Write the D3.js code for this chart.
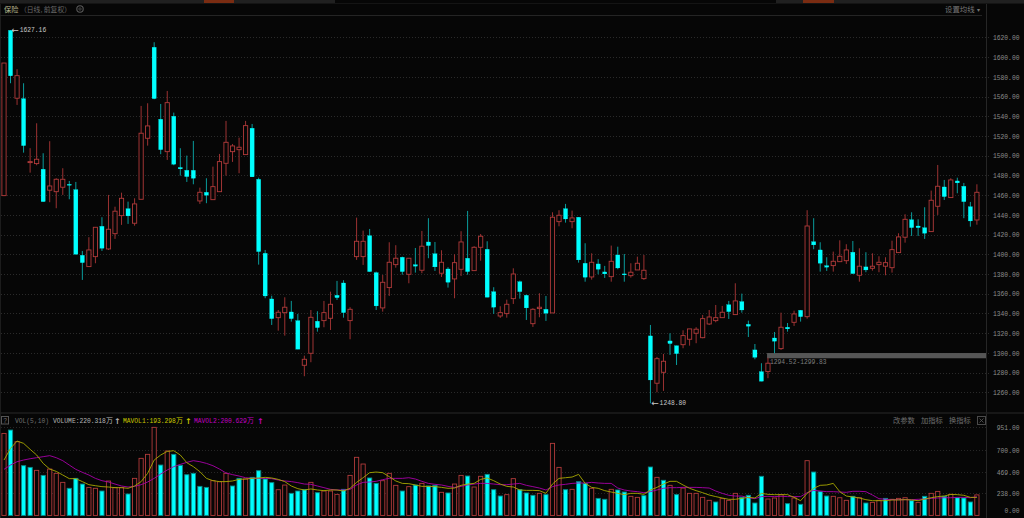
<!DOCTYPE html>
<html><head><meta charset="utf-8">
<script src="https://cdn.jsdelivr.net/npm/d3@7"></script>
<style>html,body{margin:0;padding:0;background:#060606;overflow:hidden}svg{display:block}
text{font-family:"Liberation Mono","DejaVu Sans Mono",monospace}
.cn{font-family:"Noto Sans CJK SC","Noto Sans",sans-serif}</style>
</head><body><svg id="c" width="1024" height="518"></svg>
<script>
const opens=[1459.5,1627.16,1558.3,1557.9,1493,1492,1486.3,1465,1463.5,1468,
1471,1465.6,1399,1387.5,1397.6,1428.4,1405.4,1420.9,1439.2,1446.3,
1431.5,1455.8,1517.7,1610,1537,1504.1,1540,1488.1,1485.2,1485.2,
1454.1,1462.9,1455.4,1463.5,1492.3,1504.1,1506.1,1501.1,1527.9,1476.1,
1401,1354.7,1335.7,1340.8,1341.5,1332.7,1287.4,1299.6,1332.1,1332.7,
1335.1,1358.4,1370.9,1332.7,1397.6,1397.6,1418.9,1381.4,1345.6,1366.2,
1389.5,1397,1379.7,1389.5,1383.8,1412.5,1400.6,1380.8,1385.1,1375,
1384.8,1396,1383.4,1407.1,1405.1,1362.1,1337.4,1339.8,1355,1372.2,
1358.4,1329.6,1344.9,1344.2,1340.5,1433.1,1446.3,1433.1,1437.6,1390.9,
1377,1390.2,1382.1,1377.3,1399.3,1380.1,1378.3,1384.1,1375.3,1317.2,
1269.2,1280.3,1312.1,1307.3,1308.3,1313.8,1319.9,1315.4,1329.3,1332.7,
1335.7,1348.9,1338.8,1352,1329,1303,1281,1281,1315.1,1304.3,
1326,1331,1343.2,1336.7,1412.8,1404.4,1388.5,1388.5,1392.5,1393.5,
1402.1,1378.7,1387.2,1385.8,1389.5,1387.9,1386.4,1401.7,1417.3,1435.1,
1428.7,1427,1423,1448.7,1468.3,1457.5,1474.4,1469,1448.3,1434.8];
const highs=[1594,1627.16,1587.7,1573.5,1507.6,1532.9,1502.5,1514.7,1477.1,1487.3,
1474.4,1473.4,1403.4,1417.3,1427.4,1437.6,1460.2,1448.3,1462.5,1453.4,
1456.8,1550.5,1553.2,1615.1,1552.5,1565.7,1543.7,1507.6,1500.1,1515,
1467.6,1477.1,1488.9,1501.8,1535.3,1511.9,1518.3,1535.3,1532.2,1477.7,
1404.4,1358,1343.5,1356.4,1352.7,1339.5,1297.2,1343.5,1342.2,1352.7,
1362.1,1373,1373.7,1346.3,1437.2,1424,1425.7,1382.4,1379,1412.2,
1409.2,1397.6,1396,1406.4,1423.7,1436.6,1412.5,1404.1,1386.9,1400,
1423.4,1444,1408.2,1420.6,1413.2,1366.6,1347.3,1354,1385.8,1373.3,
1359.1,1345.3,1360.5,1357.7,1442.6,1444.7,1451.1,1444.3,1437.6,1411.2,
1401,1395,1388.2,1408.8,1407.7,1400.3,1390.9,1397.6,1399.3,1328.3,
1295.9,1298.9,1319.9,1307.3,1322.9,1324.3,1326,1338.5,1343.5,1348.6,
1347.6,1352.7,1370.6,1360.1,1332.7,1309,1289.5,1295.1,1321.2,1340.8,
1330.3,1342.8,1343.5,1444.7,1436.6,1412.2,1397,1402.7,1414.2,1410.2,
1413.5,1406.1,1402.1,1401,1398,1397,1413.8,1421.3,1440.6,1442.6,
1435.5,1447.7,1464.6,1490.6,1475.4,1477.1,1477.7,1472.4,1453.1,1471];
const lows=[1459,1573.5,1551.5,1503.1,1482.8,1490.3,1453.4,1452.8,1446.7,1460.2,
1455.8,1400,1374,1387.5,1390.9,1403.4,1404.4,1415.6,1429.8,1430.8,
1429,1455.8,1510.2,1557.3,1501.5,1495.7,1490.3,1479.8,1473.4,1471,
1451.1,1451.8,1455.4,1463.5,1479.8,1493.7,1482.2,1501.1,1478.5,1389.5,
1355.4,1328.3,1322.5,1317.5,1331.7,1303.7,1276.3,1290.5,1321.5,1326,
1323.2,1353.7,1335.7,1313.8,1394.3,1389.2,1382.4,1343.5,1341.8,1357.7,
1386.4,1379.3,1370.6,1381.4,1380.8,1396,1383.1,1377,1366.2,1355.4,
1378,1379.3,1383.4,1393.5,1356.4,1339.5,1335.4,1335.7,1349.6,1355,
1333.4,1326.3,1336.1,1332.4,1340.5,1428.4,1432.1,1426.4,1391.5,1372.2,
1374.3,1379.7,1376,1372.2,1384.8,1372.2,1376.3,1384.1,1374,1248.8,
1260,1261.4,1297.9,1287.7,1304.7,1307.3,1309.8,1314.8,1328.3,1331,
1335.7,1334.4,1338.8,1340.8,1316.1,1293.5,1271.2,1274.3,1299.6,1303,
1321.5,1327.3,1331.7,1334.7,1405.1,1382.4,1383.1,1382.4,1392.5,1390.2,
1380.4,1372.2,1381.8,1383.4,1381.8,1378.7,1381.4,1401.7,1411.8,1418.6,
1418.6,1415.6,1423,1439.9,1455.1,1457.5,1461.9,1436.6,1428,1430];
const closes=[1594,1581,1581.2,1510.2,1494,1496.4,1453.4,1469.3,1476.1,1476.1,
1470,1400,1391.5,1404.4,1427.4,1406.1,1425.4,1443.7,1456.8,1438.9,
1451.1,1522.8,1530.2,1557.9,1506.1,1553.8,1491.3,1486.6,1478.8,1477.1,
1462.9,1459.9,1468.6,1494,1513.6,1509.9,1508.6,1530.5,1478.5,1402.7,
1357.7,1334.7,1341.2,1346.3,1334.7,1303.7,1293.5,1336.1,1325.6,1340.8,
1349.3,1356,1340.8,1344.2,1413.2,1413.2,1382.4,1347.6,1371.6,1391.9,
1396,1382.4,1396,1387.9,1408.2,1408.8,1387.2,1391.9,1371.6,1391.5,
1412.5,1382.4,1407.1,1418.3,1356.4,1346.3,1340.8,1349.3,1380,1362.1,
1345.6,1344.2,1346.3,1340.2,1437.6,1439.6,1435.8,1436.9,1394.3,1376.7,
1391.9,1384.8,1380.1,1392.9,1386.1,1379.3,1381.8,1390.9,1383.8,1272.5,
1294.1,1291.5,1309.4,1299.2,1317.5,1324.3,1324,1334.7,1336.4,1335.7,
1341.2,1341.8,1352.7,1343.5,1327,1295.5,1271.2,1289.5,1311.8,1326,
1324.3,1339.5,1336.7,1428.7,1409.5,1390.9,1386.9,1392.9,1398,1404.4,
1380.4,1387.9,1384.1,1387.9,1391.9,1391.5,1404.7,1417.6,1435.5,1427,
1427,1421.3,1454.8,1469,1458.5,1475.4,1472.4,1453.4,1433.8,1462.9];
const volumes=[881,917,792,534,516,484,430,498,452,355,291,398,337,301,291,262,369,298,298,230,
398,613,656,946,541,692,656,538,437,452,312,301,373,362,452,316,398,391,409,480,
391,352,276,326,237,262,276,355,244,262,262,226,280,430,624,552,402,344,373,452,
323,262,309,326,344,316,323,248,241,337,430,423,305,420,441,276,208,223,395,276,
241,216,237,223,774,516,276,280,362,344,291,183,173,280,273,251,205,194,212,520,
409,377,323,223,294,237,237,194,162,144,180,162,237,194,216,133,420,176,187,223,
126,187,119,588,466,255,208,205,190,162,205,190,133,140,162,183,173,183,190,158,
140,205,237,258,205,226,190,187,144,220.318];
const volumeColors=("rcrccrcrrr cccrrcrrrc rrrrcrcccc ccrrrccrcc ccrrcccrcr "+
"rrcrrrccrr rcrcrccrcr rcrrcccrrc ccrcrrcrcc rccrccrrcc "+
"rcrcrrrrrc rrrccccrrr crcrcccrrr crcrrcrrrc rcrrcrcccr").replace(/ /g,"").split("");
const mavol1=[595,720,799,774,710,649,559,498,473,434,395,395,363,330,319,309,305,298,298,291,
316,363,452,595,649,688,695,649,566,524,470,398,373,363,363,370,387,391,398,402,
409,402,387,363,316,287,273,284,273,266,273,273,
262,291,355,405,459,466,459,416,370,344,341,327,312,312,309,301,291,294,323,337,
344,387,402,373,337,312,305,273,269,269,266,237,337,398,405,412,441,344,301,291,
266,251,237,223,237,237,226,273,301,337,366,366,
327,291,266,244,219,202,187,173,173,183,194,187,237,226,223,223,223,194,158,237,
291,323,327,344,255,208,198,187,169,158,158,158,166,166,169,166,158,176,190,202,
208,226,223,216,194,193.298];
const mavol2=[495,541,577,595,609,620,631,642,620,588,541,495,463,434,398,373,359,337,316,305,
312,330,359,398,445,488,524,548,570,588,577,559,534,498,456,438,423,405,398,398,
398,395,380,370,363,352,337,334,316,298,280,273,
273,280,327,355,359,366,384,398,398,398,405,391,366,344,334,327,312,301,312,327,
337,344,344,337,330,330,337,344,323,309,294,273,309,327,334,344,348,348,355,348,
344,344,294,273,262,255,244,255,273,291,298,298,
301,301,301,298,294,262,237,216,208,208,190,180,202,205,202,205,202,202,202,244,
269,262,255,255,251,248,259,259,255,219,180,173,169,169,169,169,173,176,183,187,
190,190,194,194,190,200.629];
const priceTicks=d3.range(1260,1621,20);
const volTicks=[951,700,469,238,0];
const highPoint={i:1,v:1627.16,label:"1627.16"}, lowPoint={i:99,v:1248.80,label:"1248.80"};
const band={from:117,lo:1294.52,hi:1299.83,label:"1294.52-1299.83"};
const headerVol=[
 {t:"VOL(5,10)",x:15,c:"#6f6f6f"},{t:"VOLUME:220.318万",x:53,c:"#b5b5b5",a:117},
 {t:"MAVOL1:193.298万",x:123,c:"#c8c800",a:188},{t:"MAVOL2:200.629万",x:194,c:"#c000c0",a:260}];
const menuItems=[["改参数",893],["加指标",921],["换指标",949]];

const svg=d3.select("#c");
const W=1024,R=986,FS=6.3;
const RED="#b23b3b",REDW="#9c3232",CY="#00ffff",CYW="#0a9c9c";
svg.append("rect").attr("width",W).attr("height",518).attr("fill","#060606");
const x=d3.scaleLinear().domain([0,149]).range([4,976.9]);
const y=d3.scaleLinear().domain([1260,1620]).range([392.3,37.4]);
const yv=d3.scaleLinear().domain([0,951]).range([515.4,426.9]);

// top strip
svg.append("rect").attr("x",0).attr("y",0).attr("width",335).attr("height",3).attr("fill","#202020");
svg.append("rect").attr("x",776).attr("y",0).attr("width",248).attr("height",3).attr("fill","#202020");
[[204,30],[803,31]].forEach(d=>svg.append("rect").attr("x",d[0]).attr("y",0).attr("width",d[1]).attr("height",3).attr("fill","#7a2c12"));
svg.append("rect").attr("y",3).attr("width",W).attr("height",1).attr("fill","#141414");
// frames
const ln=(x1,y1,x2,y2,c,w)=>svg.append("line").attr("x1",x1).attr("y1",y1).attr("x2",x2).attr("y2",y2).attr("stroke",c).attr("stroke-width",w||1);
ln(0.5,4,0.5,518,"#1c1c1c");
ln(0,15.5,982,15.5,"#242424");
ln(986.5,4,986.5,518,"#262626");
ln(0,413,1024,413,"#1e1e1e",1.5);

// grids
svg.append("g").selectAll("line").data(priceTicks).join("line")
 .attr("x1",1).attr("x2",990).attr("y1",d=>Math.round(y(d))+.5).attr("y2",d=>Math.round(y(d))+.5)
 .attr("stroke","#2a2a2a").attr("stroke-dasharray","1,2");
svg.append("g").selectAll("line").data(volTicks.slice(0,4)).join("line")
 .attr("x1",1).attr("x2",986).attr("y1",d=>Math.round(yv(d))+.5).attr("y2",d=>Math.round(yv(d))+.5)
 .attr("stroke","#262626").attr("stroke-dasharray","1,2");

// axes
const axP=d3.axisRight(y).tickValues(priceTicks).tickFormat(d3.format(".2f")).tickSize(0).tickPadding(0);
const gP=svg.append("g").attr("transform","translate(993,0)").call(axP);
gP.select(".domain").remove();
gP.selectAll("text").attr("fill","#8c8c8c").attr("font-size",FS).attr("font-family","Liberation Mono").attr("dy","0.36em").attr("x",0);
const axV=d3.axisRight(yv).tickValues(volTicks).tickFormat(d3.format(".2f")).tickSize(0).tickPadding(0);
const gV=svg.append("g").attr("transform","translate(1019.5,0)").call(axV);
gV.select(".domain").remove();
gV.selectAll("text").attr("fill","#8c8c8c").attr("font-size",FS).attr("font-family","Liberation Mono").attr("text-anchor","end").attr("x",0)
 .attr("dy",d=>d===0?"-0.42em":"0.36em");

// gray level band
svg.append("rect").attr("x",x(band.from)-.9).attr("width",R-x(band.from)+.9)
 .attr("y",y(band.hi)).attr("height",y(band.lo)-y(band.hi)).attr("fill","#565656");
svg.append("text").attr("x",x(band.from)+2).attr("y",y(band.lo)+6).attr("font-size",FS).attr("fill","#7d7d7d").text(band.label);

// candles
const idx=d3.range(opens.length);
const isUp=i=>closes[i]>=opens[i];
const bw=4.2;
svg.append("g").selectAll("line").data(idx).join("line")
 .attr("x1",x).attr("x2",x).attr("y1",i=>y(highs[i])).attr("y2",i=>y(lows[i]))
 .attr("stroke",i=>isUp(i)?REDW:CYW).attr("stroke-width",1);
svg.append("g").selectAll("rect").data(idx).join("rect")
 .attr("x",i=>x(i)-bw/2).attr("width",bw)
 .attr("y",i=>y(Math.max(opens[i],closes[i])))
 .attr("height",i=>Math.max(1,Math.abs(y(opens[i])-y(closes[i]))))
 .attr("fill",i=>isUp(i)?"#060606":CY)
 .attr("stroke",i=>isUp(i)?RED:CY).attr("stroke-width",i=>isUp(i)?.9:.2);

// annotations
[highPoint,lowPoint].forEach(p=>{
 svg.append("text").attr("x",x(p.i)+.8).attr("y",y(p.v)+2.8).attr("font-size",9).attr("fill","#c8c8c8")
  .attr("style","font-family:'DejaVu Sans'").text("←");
 svg.append("text").attr("x",x(p.i)+9.2).attr("y",y(p.v)+2).attr("font-size",FS).attr("fill","#c8c8c8").text(p.label);
});

// volumes
svg.append("g").selectAll("rect").data(idx).join("rect")
 .attr("x",i=>x(i)-bw/2).attr("width",bw)
 .attr("y",i=>yv(volumes[i])).attr("height",i=>yv(0)-yv(volumes[i]))
 .attr("fill",i=>volumeColors[i]==="r"?"#060606":CY)
 .attr("stroke",i=>volumeColors[i]==="r"?RED:"#0a8a8a").attr("stroke-width",.9);
const lineV=d3.line().x((d,i)=>x(i)).y(d=>yv(d));
svg.append("path").attr("d",lineV(mavol2)).attr("fill","none").attr("stroke","#a800a8").attr("stroke-width",.9);
svg.append("path").attr("d",lineV(mavol1)).attr("fill","none").attr("stroke","#a8a800").attr("stroke-width",.9);

// header
const tx=(t,xp,yp,c,fs,cls)=>svg.append("text").attr("x",xp).attr("y",yp).attr("fill",c).attr("font-size",fs).attr("class",cls||null).text(t);
tx("保险",4,12,"#b4b48e",7.2,"cn");
tx("（日线, 前复权）",20,12,"#6a6a6a",6.8,"cn");
svg.append("circle").attr("cx",80).attr("cy",9).attr("r",3.2).attr("fill","none").attr("stroke","#5a5a5a").attr("stroke-width",1.1);
svg.append("circle").attr("cx",80).attr("cy",9).attr("r",1.2).attr("fill","none").attr("stroke","#5a5a5a").attr("stroke-width",.7);
tx("设置均线",945,12,"#777",7.4,"cn");
tx("▾",977,12,"#777",6,"cn");

// volume header
svg.append("rect").attr("x",1.5).attr("y",416.5).attr("width",7).attr("height",7.5).attr("fill","none").attr("stroke","#555");
tx("?",3.2,422.6,"#777",6.4);
headerVol.forEach(d=>{
 svg.append("text").attr("x",d.x).attr("y",423).attr("fill",d.c).attr("font-size",FS)
  .text(d.t.replace("万","")).call(s=>{
    const w=s.node().getComputedTextLength();
    if(d.t.includes("万")) tx("万",d.x+w,423,d.c,7,"cn");
  });
 if(d.a) tx("↑",d.a-3,423.5,d.c,8).attr("style","font-family:'DejaVu Sans';font-weight:bold");
});
menuItems.forEach(m=>tx(m[0],m[1],423,"#6e6e6e",7.3,"cn"));
svg.append("rect").attr("x",977.5).attr("y",416.5).attr("width",8).attr("height",8).attr("fill","none").attr("stroke","#4a4a4a");
ln(979.5,418.5,983.5,422.5,"#5a5a5a",.8);ln(983.5,418.5,979.5,422.5,"#5a5a5a",.8);
</script></body></html>
